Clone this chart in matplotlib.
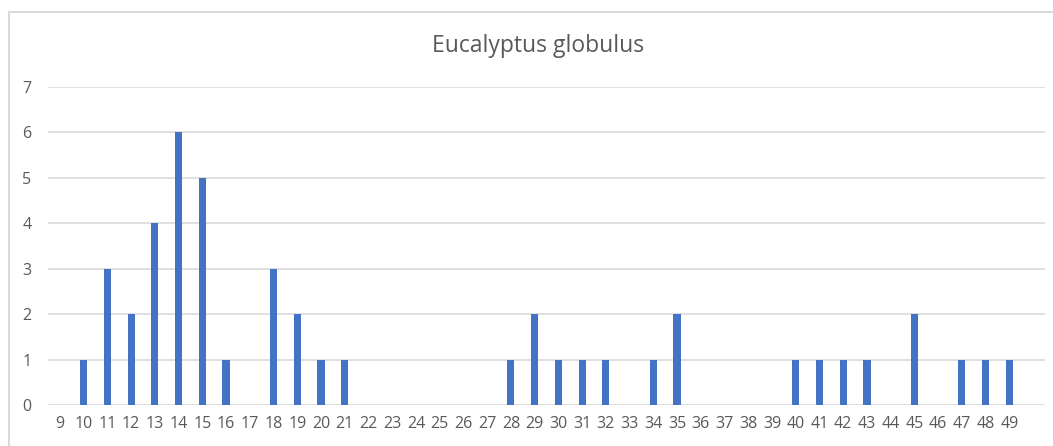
import matplotlib
matplotlib.use("Agg")
import matplotlib.pyplot as plt
from matplotlib.patches import Rectangle

categories = list(range(9, 50))
counts = [0, 1, 3, 2, 4, 6, 5, 1, 0, 3, 2, 1, 1,
          0, 0, 0, 0, 0, 0,
          1, 2, 1, 1, 1, 0, 1, 2,
          0, 0, 0, 0,
          1, 1, 1, 1, 0, 2, 0, 1, 1, 1]
yticks = [0, 1, 2, 3, 4, 5, 6, 7]
title = "Eucalyptus globulus"

W, H = 1053, 446
fig = plt.figure(figsize=(W / 100, H / 100), dpi=100)
plt.rcParams['font.family'] = ['Open Sans', 'DejaVu Sans']

# outer chart border (top/left visible)
fig.patches.append(Rectangle((9 / W, -0.1), 1.2, (H - 12) / H + 0.1,
                             transform=fig.transFigure, fill=False,
                             edgecolor='#d9d9d9', linewidth=1.5))

left, right = 48, 1045
top, bottom = 87, 405
ax = fig.add_axes([left / W, 1 - bottom / H, (right - left) / W, (bottom - top) / H])
ax.bar(categories, counts, width=0.3, color='#4472C4', zorder=3)
ax.set_xlim(8.5, 50.5)
ax.set_ylim(0, 7)
ax.set_yticks(yticks)
ax.set_xticks(categories)
ax.set_xticklabels([str(c) for c in categories])
ax.grid(axis='y', color='#d9d9d9', linewidth=1.2, zorder=0)
for s in ax.spines.values():
    s.set_visible(False)
ax.tick_params(length=0, colors='#595959', labelsize=11.5)
ax.tick_params(axis='x', pad=8)
ax.tick_params(axis='y', pad=12)
fig.text(538 / W, 1 - 46 / H, title, ha='center', va='center',
         fontsize=16.5, color='#595959')

fig.savefig("out.png", dpi=100)
